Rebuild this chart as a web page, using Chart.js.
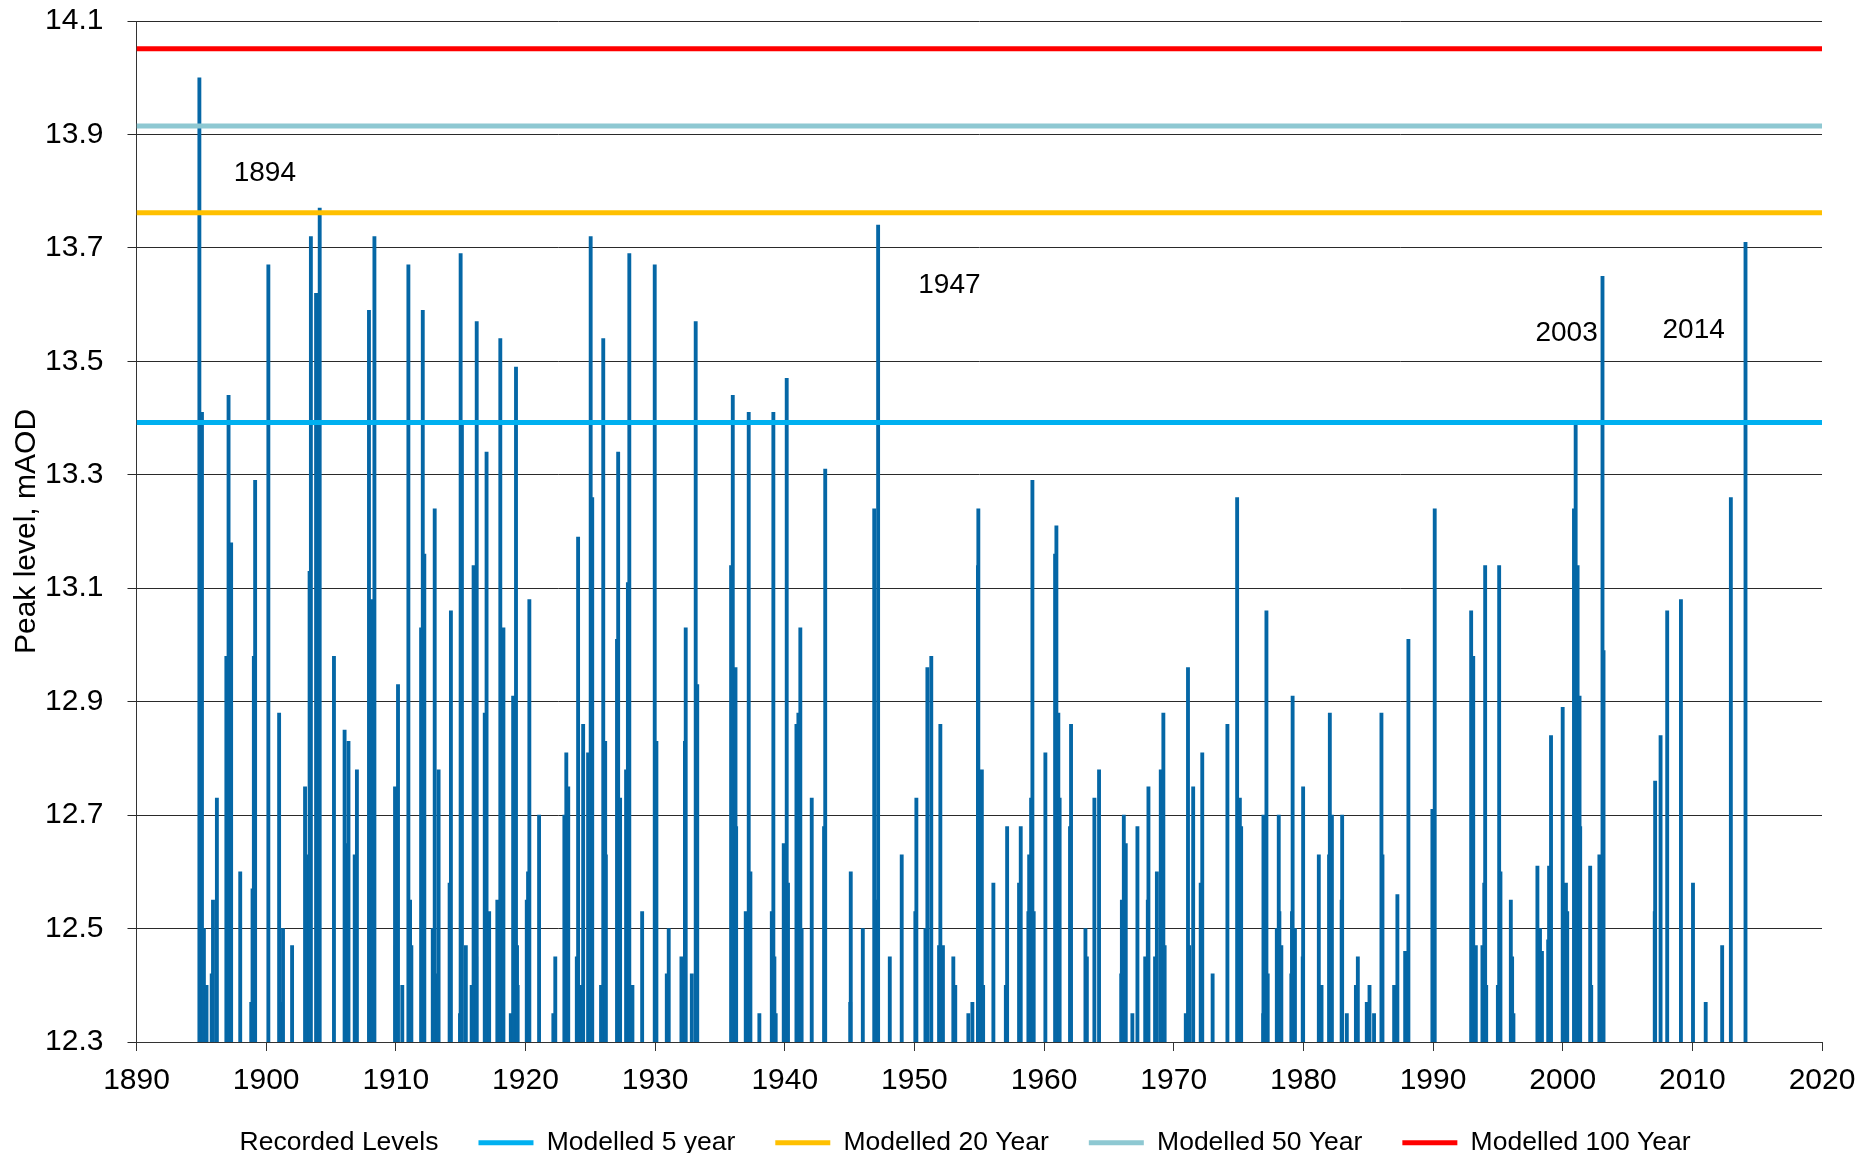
<!DOCTYPE html>
<html>
<head>
<meta charset="utf-8">
<script src="https://cdn.jsdelivr.net/npm/chart.js@4.4.1/dist/chart.umd.min.js"></script>
<style>
  html, body { margin: 0; padding: 0; background: #fff; }
  #wrap { width: 1861px; height: 1153px; position: relative; }
</style>
</head>
<body>
<div id="wrap"><canvas id="myChart"></canvas></div>
<script>
// recorded peak levels (decimal year, level in mAOD), one line per decade
const recordYears = [
  1894.85, 1895.05, 1895.2, 1895.4, 1895.8, 1895.9, 1896.2, 1896.93, 1897.1, 1897.3, 1898.0, 1898.85, 1898.95, 1899.05, 1899.15,
  1900.17, 1901.0, 1901.2, 1901.3, 1902.0, 1903.0, 1903.2, 1903.35, 1903.45, 1903.85, 1903.95, 1904.13, 1905.23, 1906.05, 1906.2, 1906.3, 1906.35, 1906.83, 1907.0, 1907.93, 1908.1, 1908.2, 1908.35, 1909.94,
  1910.0, 1910.17, 1910.5, 1910.97, 1911.1, 1911.2, 1911.95, 1912.08, 1912.2, 1912.85, 1913.0, 1913.2, 1913.3, 1914.15, 1914.25, 1914.95, 1915.0, 1915.1, 1915.4, 1915.85, 1916.0, 1916.1, 1916.2, 1916.24, 1916.86, 1917.0, 1917.2, 1917.83, 1918.06, 1918.3, 1918.87, 1919.05, 1919.27, 1919.35, 1919.4,
  1920.1, 1920.2, 1920.3, 1921.05, 1922.15, 1922.3, 1923.0, 1923.15, 1923.3, 1923.96, 1924.06, 1924.35, 1924.45, 1924.83, 1925.03, 1925.15, 1925.83, 1926.0, 1926.15, 1926.2, 1927.06, 1927.15, 1927.3, 1927.76, 1927.9, 1928.01, 1928.25, 1929.0, 1929.97,
  1930.1, 1930.9, 1931.05, 1932.03, 1932.1, 1932.3, 1932.36, 1932.83, 1933.13, 1933.25, 1935.86, 1935.99, 1936.2, 1936.25, 1936.99, 1937.22, 1937.35, 1938.04, 1939.0, 1939.12, 1939.2, 1939.3, 1939.92,
  1940.0, 1940.15, 1940.25, 1940.9, 1941.05, 1941.2, 1941.3, 1942.08, 1943.03, 1943.12, 1945.05, 1945.09, 1946.02, 1946.9, 1947.0, 1947.2, 1948.1, 1949.02,
  1950.07, 1950.15, 1950.85, 1951.0, 1951.3, 1951.9, 1952.0, 1952.1, 1952.2, 1953.0, 1953.15, 1954.16, 1954.47, 1954.9, 1954.93, 1955.2, 1955.3, 1956.09, 1957.05, 1957.15, 1958.07, 1958.2, 1958.79, 1958.85, 1959.0, 1959.1, 1959.2,
  1960.1, 1960.85, 1960.95, 1961.1, 1961.2, 1962.0, 1962.08, 1963.19, 1963.3, 1963.88, 1964.24, 1965.95, 1966.0, 1966.15, 1966.3, 1966.81, 1967.2, 1967.8, 1968.0, 1968.05, 1968.56, 1968.7, 1969.0, 1969.2, 1969.3,
  1970.93, 1971.1, 1971.2, 1971.5, 1972.08, 1972.2, 1973.0, 1974.14, 1974.89, 1975.1, 1975.2, 1976.9, 1976.92, 1977.15, 1977.25, 1977.95, 1978.1, 1978.15, 1978.3, 1979.07, 1979.12, 1979.17, 1979.35, 1979.95, 1979.98,
  1981.19, 1981.4, 1981.98, 1982.04, 1982.2, 1982.95, 1982.99, 1983.35, 1984.05, 1984.2, 1984.89, 1985.1, 1985.45, 1986.02, 1986.1, 1987.0, 1987.25, 1987.85, 1988.1, 1989.95,
  1990.13, 1992.94, 1993.1, 1993.3, 1993.81, 1993.95, 1994.02, 1994.1, 1995.0, 1995.1, 1995.2, 1996.0, 1996.1, 1996.2, 1998.05, 1998.25, 1998.4, 1998.88, 1998.95, 1999.1,
  2000.0, 2000.15, 2000.25, 2000.35, 2000.87, 2001.0, 2001.15, 2001.3, 2001.35, 2002.12, 2002.2, 2002.83, 2003.07, 2003.15, 2007.1, 2007.13, 2007.55, 2008.06, 2009.12,
  2010.05, 2011.03, 2012.3, 2012.97, 2014.1
];
const recordLevels = [
  14.00, 13.41, 12.50, 12.40, 12.42, 12.55, 12.73, 12.98, 13.44, 13.18, 12.60, 12.37, 12.57, 12.98, 13.29,
  13.67, 12.88, 12.37, 12.50, 12.47, 12.75, 12.63, 13.13, 13.72, 13.62, 13.16, 13.77, 12.98, 12.85, 12.65, 12.35, 12.83, 12.63, 12.78, 13.59, 13.08, 12.57, 13.72, 12.75,
  12.47, 12.93, 12.40, 13.67, 12.55, 12.47, 13.03, 13.59, 13.16, 12.50, 13.24, 12.42, 12.78, 12.58, 13.06, 12.35, 13.69, 13.39, 12.47, 12.40, 13.14, 12.83, 12.45, 13.57, 12.88, 13.34, 12.53, 12.55, 13.54, 13.03, 12.35, 12.91, 13.49, 12.47, 12.40,
  12.55, 12.60, 13.08, 12.70, 12.35, 12.45, 12.70, 12.81, 12.75, 12.45, 13.19, 12.40, 12.86, 12.81, 13.72, 13.26, 12.40, 13.54, 12.83, 12.63, 13.01, 13.34, 12.73, 12.78, 13.11, 13.69, 12.40, 12.53, 13.67,
  12.83, 12.42, 12.50, 12.45, 12.40, 12.83, 13.03, 12.42, 13.57, 12.93, 13.14, 13.44, 12.96, 12.68, 12.53, 13.41, 12.60, 12.35, 12.53, 13.41, 12.45, 12.35, 12.65,
  12.63, 13.47, 12.58, 12.86, 12.88, 13.03, 12.50, 12.73, 12.68, 13.31, 12.37, 12.60, 12.50, 13.24, 12.55, 13.74, 12.45, 12.63,
  12.53, 12.73, 12.50, 12.96, 12.98, 12.47, 12.86, 12.37, 12.47, 12.45, 12.40, 12.35, 12.37, 13.14, 13.24, 12.78, 12.40, 12.58, 12.40, 12.68, 12.58, 12.68, 12.53, 12.63, 12.73, 13.29, 12.53,
  12.81, 13.16, 13.21, 12.88, 12.73, 12.68, 12.86, 12.50, 12.45, 12.73, 12.78, 12.42, 12.55, 12.70, 12.65, 12.35, 12.68, 12.45, 12.55, 12.75, 12.45, 12.60, 12.78, 12.88, 12.47,
  12.35, 12.96, 12.47, 12.75, 12.58, 12.81, 12.42, 12.86, 13.26, 12.73, 12.68, 12.35, 12.70, 13.06, 12.42, 12.50, 12.70, 12.53, 12.47, 12.42, 12.53, 12.91, 12.50, 12.45, 12.75,
  12.63, 12.40, 12.63, 12.88, 12.70, 12.55, 12.70, 12.35, 12.40, 12.45, 12.37, 12.40, 12.35, 12.88, 12.63, 12.40, 12.56, 12.46, 13.01, 12.71,
  13.24, 13.06, 12.98, 12.47, 12.47, 12.58, 13.14, 12.40, 12.40, 13.14, 12.60, 12.55, 12.45, 12.35, 12.61, 12.50, 12.46, 12.48, 12.61, 12.84,
  12.89, 12.48, 12.58, 12.53, 13.24, 13.39, 13.14, 12.91, 12.68, 12.61, 12.40, 12.63, 13.65, 12.99, 12.53, 12.76, 12.84, 13.06, 13.08,
  12.58, 12.37, 12.47, 13.26, 13.71
];

// modelled return period levels
const modelNames = ["Modelled 5 year", "Modelled 20 Year", "Modelled 50 Year", "Modelled 100 Year"];
const modelLevels = [13.392, 13.762, 13.915, 14.051];
const modelColours = ["#00b0f0", "#ffc000", "#8ec8d2", "#ff0000"];

// year labels written on the chart
const noteText = ["1894", "1947", "2003", "2014"];
const noteYear = [1899.9, 1952.7, 2000.3, 2010.1];
const noteLevel = [13.832, 13.634, 13.550, 13.554];

const xMin = 1890, xMax = 2020;
const yMin = 12.3, yMax = 14.1;

const FONT = "'Liberation Sans', Arial, sans-serif";

const datasets = [
  {
    type: "bar",
    label: "Recorded Levels",
    data: recordYears.map((yr, i) => ({ x: yr, y: recordLevels[i] })),
    backgroundColor: "#0567a6",
    borderWidth: 0,
    barThickness: 3.2,
    order: 5,
  },
];

modelNames.forEach((name, i) => {
  datasets.push({
    type: "line",
    label: name,
    data: [
      { x: xMin, y: modelLevels[i] },
      { x: xMax, y: modelLevels[i] },
    ],
    borderColor: modelColours[i],
    backgroundColor: modelColours[i],
    borderWidth: 5,
    pointRadius: 0,
    order: 0,
  });
});

// draws the year notes
const notesPlugin = {
  id: "notes",
  afterDatasetsDraw(chart) {
    const ctx = chart.ctx;
    const xs = chart.scales.x;
    const ys = chart.scales.y;
    ctx.save();
    ctx.font = "28px " + FONT;
    ctx.fillStyle = "#000";
    ctx.textAlign = "center";
    ctx.textBaseline = "middle";
    noteText.forEach((t, i) => {
      ctx.fillText(t, xs.getPixelForValue(noteYear[i]), ys.getPixelForValue(noteLevel[i]));
    });
    ctx.restore();
  },
};

const ctx = document.getElementById("myChart").getContext("2d");
new Chart(ctx, {
  type: "bar",
  data: { datasets: datasets },
  plugins: [notesPlugin],
  options: {
    responsive: true,
    maintainAspectRatio: false,
    animation: false,
    // extra left padding nudges the legend right; y title is pulled back with negative padding
    layout: { padding: { left: 40, right: 39, top: 21, bottom: -13 } },
    plugins: {
      tooltip: { enabled: false },
      legend: {
        position: "bottom",
        labels: {
          color: "#000",
          font: { family: FONT, size: 26.5 },
          usePointStyle: true,
          pointStyle: "line",
          pointStyleWidth: 55,
          padding: 40,
          sort: (a, b) => a.datasetIndex - b.datasetIndex,
          generateLabels(chart) {
            const items = Chart.defaults.plugins.legend.labels.generateLabels(chart);
            items.forEach((it) => {
              if (it.datasetIndex === 0) {
                it.strokeStyle = "rgba(0,0,0,0)";
                it.fillStyle = "rgba(0,0,0,0)";
              } else {
                it.lineWidth = 5;
              }
            });
            return items;
          },
        },
      },
    },
    scales: {
      x: {
        type: "linear",
        min: xMin,
        max: xMax,
        offset: false,
        afterFit: (s) => { s.height = 47.5; s.paddingLeft = 0; s.paddingRight = 0; },
        grid: { drawOnChartArea: false, drawTicks: true, tickLength: 9, color: "#333", offset: false },
        border: { display: true, color: "#333", width: 1 },
        ticks: {
          stepSize: 10,
          padding: 12,
          maxRotation: 0,
          color: "#000",
          font: { family: FONT, size: 30 },
          callback: (v) => String(v),
        },
      },
      y: {
        min: yMin,
        max: yMax,
        afterFit: (s) => { s.width = 96.5; s.paddingTop = 0; s.paddingBottom = 0; },
        grid: { color: "#2a2a2a", lineWidth: 1, tickLength: 9 },
        border: { display: true, color: "#333", width: 1 },
        ticks: {
          stepSize: 0.2,
          padding: 24,
          color: "#000",
          font: { family: FONT, size: 30 },
          callback: (v) => Number(v).toFixed(1),
        },
        title: {
          display: true,
          text: "Peak level, mAOD",
          color: "#000",
          font: { family: FONT, size: 30 },
          padding: { top: -31, bottom: 4 },
        },
      },
    },
  },
});
</script>
</body>
</html>
